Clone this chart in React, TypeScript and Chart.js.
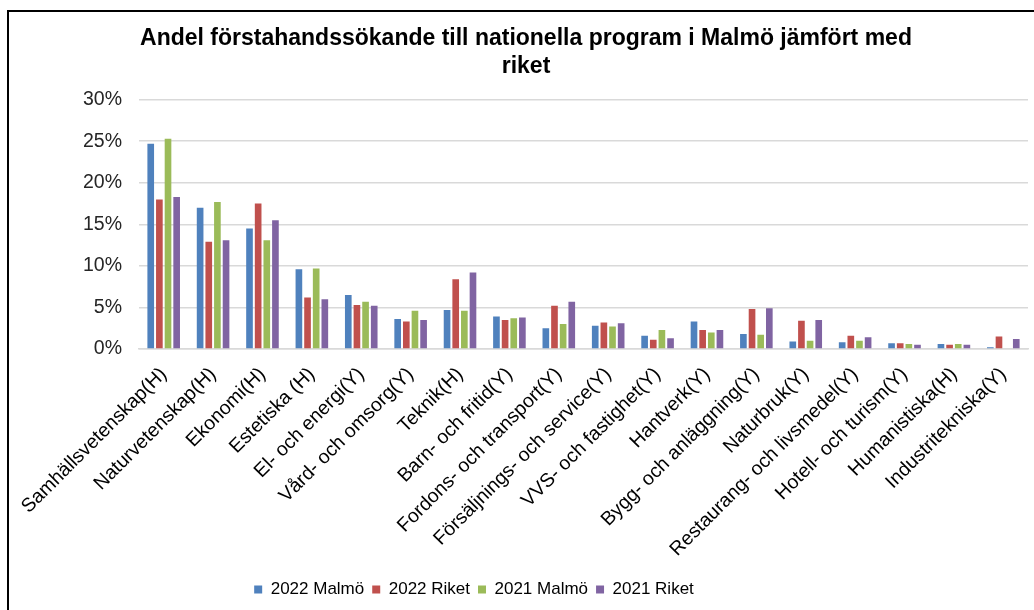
import React, { useEffect, useRef } from "react";
import { Chart, registerables } from "chart.js";

Chart.register(...registerables);

const categories = [
  "Samhällsvetenskap(H)",
  "Naturvetenskap(H)",
  "Ekonomi(H)",
  "Estetiska (H)",
  "El- och energi(Y)",
  "Vård- och omsorg(Y)",
  "Teknik(H)",
  "Barn- och fritid(Y)",
  "Fordons- och transport(Y)",
  "Försäljnings- och service(Y)",
  "VVS- och fastighet(Y)",
  "Hantverk(Y)",
  "Bygg- och anläggning(Y)",
  "Naturbruk(Y)",
  "Restaurang- och livsmedel(Y)",
  "Hotell- och turism(Y)",
  "Humanistiska(H)",
  "Industritekniska(Y)",
];

const malmo2022 = [24.7, 17.0, 14.5, 9.6, 6.5, 3.6, 4.7, 3.9, 2.5, 2.8, 1.6, 3.3, 1.8, 0.9, 0.8, 0.7, 0.6, 0.2];
const riket2022 = [18.0, 12.9, 17.5, 6.2, 5.3, 3.3, 8.4, 3.5, 5.2, 3.2, 1.1, 2.3, 4.8, 3.4, 1.6, 0.7, 0.5, 1.5];
const malmo2021 = [25.3, 17.7, 13.1, 9.7, 5.7, 4.6, 4.6, 3.7, 3.0, 2.7, 2.3, 2.0, 1.7, 1.0, 1.0, 0.6, 0.6, 0];
const riket2021 = [18.3, 13.1, 15.5, 6.0, 5.2, 3.5, 9.2, 3.8, 5.7, 3.1, 1.3, 2.3, 4.9, 3.5, 1.4, 0.5, 0.5, 1.2];

const seriesNames = ["2022 Malmö", "2022 Riket", "2021 Malmö", "2021 Riket"];
const seriesColors = ["#4F81BD", "#C0504D", "#9BBB59", "#8064A2"];
const yTicks = [0, 5, 10, 15, 20, 25, 30];

const titleLines = ["Andel förstahandssökande till nationella program i Malmö jämfört med", "riket"];

const FONT = "'Liberation Sans', Arial, sans-serif";

export default function App() {
  const ref = useRef<HTMLCanvasElement | null>(null);

  useEffect(() => {
    if (!ref.current) return;
    const values = [malmo2022, riket2022, malmo2021, riket2021];
    const legendShift = {
      id: "legendShift",
      afterLayout(chart: any) {
        const l = chart.legend;
        if (l) {
          l.left -= 52;
          l.right -= 52;
        }
      },
    };
    const chart = new Chart(ref.current, {
      type: "bar",
      data: {
        labels: categories,
        datasets: values.map((v, i) => ({
          label: seriesNames[i],
          data: v,
          backgroundColor: seriesColors[i],
          borderWidth: 0,
          barPercentage: 0.77,
          categoryPercentage: 0.7,
        })),
      },
      options: {
        responsive: false,
        animation: false,
        layout: { padding: { left: 15, right: 21, top: 0, bottom: 2 } },
        plugins: {
          title: {
            display: true,
            text: titleLines,
            color: "#000",
            font: { family: FONT, size: 23, weight: "bold", lineHeight: 1.2 },
            padding: { top: 13, bottom: 19.5 },
          },
          legend: {
            position: "bottom",
            labels: {
              color: "#000",
              font: { family: FONT, size: 17 },
              boxWidth: 8,
              boxHeight: 8,
              padding: 8,
            },
          },
          tooltip: { enabled: false },
        },
        scales: {
          x: {
            grid: { display: false, drawTicks: false },
            border: { display: true, color: "#d9d9d9", width: 1.5 },
            ticks: {
              color: "#000",
              font: { family: FONT, size: 19.5 },
              minRotation: 45,
              maxRotation: 45,
              autoSkip: false,
              padding: 14,
            },
            afterFit(scale: any) {
              scale.height = 224;
              scale.paddingLeft = 0;
              scale.paddingRight = 0;
            },
          },
          y: {
            min: 0,
            max: 30,
            afterBuildTicks(scale: any) {
              scale.ticks = yTicks.map((v) => ({ value: v }));
            },
            grid: { color: "#d9d9d9", lineWidth: 1.5, drawTicks: false },
            border: { display: false },
            ticks: {
              color: "#262626",
              font: { family: FONT, size: 19.5 },
              padding: 17,
              callback: (v: any) => v + "%",
            },
            afterFit(scale: any) {
              scale.width = 115;
            },
          },
        },
      },
      plugins: [legendShift],
    });
    return () => chart.destroy();
  }, []);

  return (
    <div style={{ position: "absolute", left: 0, top: 0, width: 1034, height: 610, overflow: "hidden", background: "#fff" }}>
      <div style={{ position: "absolute", left: 7, top: 10, width: 1040, height: 610, border: "2px solid #000", background: "#fff" }}>
        <canvas ref={ref} width={1040} height={598} style={{ display: "block", width: 1040, height: 598 }} />
      </div>
    </div>
  );
}
